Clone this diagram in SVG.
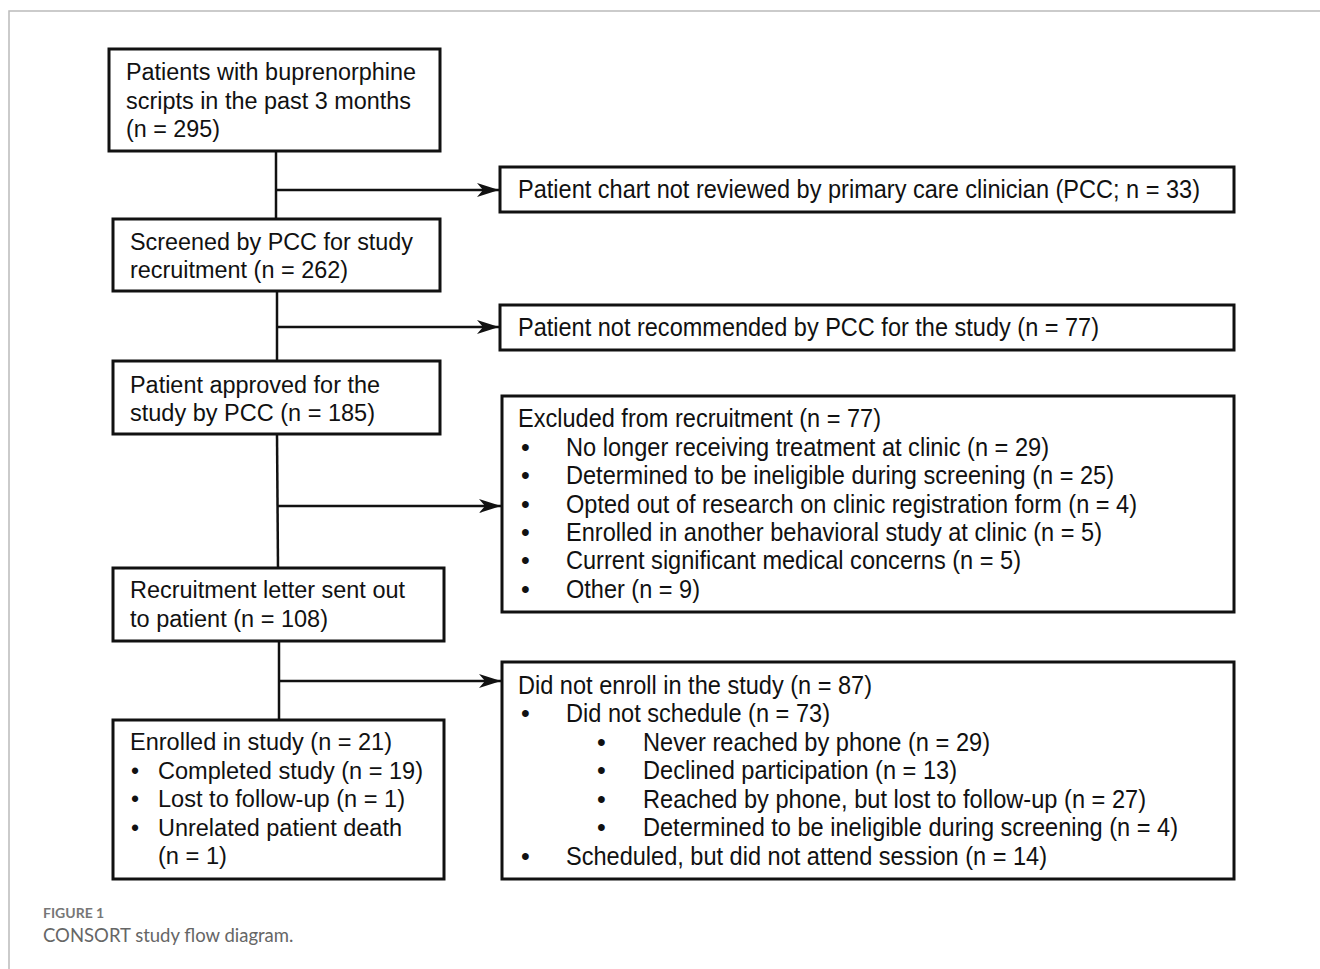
<svg xmlns="http://www.w3.org/2000/svg" width="1320" height="969" viewBox="0 0 1320 969">
<style>
.box{fill:#fff;stroke:#111;stroke-width:3}
.t{font-family:"Liberation Sans",Arial,sans-serif;font-size:23px;fill:#111}
.r{font-family:"Liberation Sans",Arial,sans-serif;font-size:25px;fill:#111}
.ln{stroke:#111;stroke-width:2.5;fill:none}
.cap1{font-family:Lato,"Liberation Sans",sans-serif;font-size:14px;font-weight:bold;fill:#777}
.cap2{font-family:Lato,"Liberation Sans",sans-serif;font-size:18.5px;fill:#666}
</style>
<defs>
<marker id="ah" markerUnits="userSpaceOnUse" markerWidth="24" markerHeight="16" refX="22" refY="8" orient="auto">
<path d="M0,1 L22,8 L0,15 L6,8 Z" fill="#111"/>
</marker>
</defs>
<rect width="1320" height="969" fill="#fff"/>
<path d="M9,969 V11 H1320" fill="none" stroke="#bbb" stroke-width="1.5"/>

<g id="connectors">
<line class="ln" x1="276" y1="151" x2="276" y2="219"/>
<line class="ln" x1="276" y1="190" x2="499" y2="190" marker-end="url(#ah)"/>
<line class="ln" x1="277" y1="291" x2="277" y2="361"/>
<line class="ln" x1="277" y1="327" x2="499" y2="327" marker-end="url(#ah)"/>
<line class="ln" x1="277" y1="434" x2="278" y2="568"/>
<line class="ln" x1="277" y1="506" x2="501" y2="506" marker-end="url(#ah)"/>
<line class="ln" x1="279" y1="641" x2="279" y2="720"/>
<line class="ln" x1="279" y1="681" x2="501" y2="681" marker-end="url(#ah)"/>
</g>

<g id="n1">
<rect class="box" x="109" y="49" width="331" height="102"/>
<text class="t" x="126" y="80" textLength="290" lengthAdjust="spacingAndGlyphs">Patients with buprenorphine</text>
<text class="t" x="126" y="109" textLength="285" lengthAdjust="spacingAndGlyphs">scripts in the past 3 months</text>
<text class="t" x="126" y="137" textLength="94" lengthAdjust="spacingAndGlyphs">(n = 295)</text>
</g>
<g id="n2">
<rect class="box" x="113" y="219" width="327" height="72"/>
<text class="t" x="130" y="250" textLength="283" lengthAdjust="spacingAndGlyphs">Screened by PCC for study</text>
<text class="t" x="130" y="278" textLength="218" lengthAdjust="spacingAndGlyphs">recruitment (n = 262)</text>
</g>
<g id="n3">
<rect class="box" x="113" y="361" width="327" height="73"/>
<text class="t" x="130" y="393" textLength="250" lengthAdjust="spacingAndGlyphs">Patient approved for the</text>
<text class="t" x="130" y="421" textLength="245" lengthAdjust="spacingAndGlyphs">study by PCC (n = 185)</text>
</g>
<g id="n4">
<rect class="box" x="113" y="568" width="331" height="73"/>
<text class="t" x="130" y="598" textLength="275" lengthAdjust="spacingAndGlyphs">Recruitment letter sent out</text>
<text class="t" x="130" y="627" textLength="198" lengthAdjust="spacingAndGlyphs">to patient (n = 108)</text>
</g>
<g id="n5">
<rect class="box" x="113" y="720" width="331" height="159"/>
<text class="t" x="130" y="750" textLength="262" lengthAdjust="spacingAndGlyphs">Enrolled in study (n = 21)</text>
<text class="t" x="131" y="779">•</text>
<text class="t" x="158" y="779" textLength="265" lengthAdjust="spacingAndGlyphs">Completed study (n = 19)</text>
<text class="t" x="131" y="807">•</text>
<text class="t" x="158" y="807" textLength="247" lengthAdjust="spacingAndGlyphs">Lost to follow-up (n = 1)</text>
<text class="t" x="131" y="836">•</text>
<text class="t" x="158" y="836" textLength="244" lengthAdjust="spacingAndGlyphs">Unrelated patient death</text>
<text class="t" x="158" y="864" textLength="69" lengthAdjust="spacingAndGlyphs">(n = 1)</text>
</g>

<g id="e1">
<rect class="box" x="500" y="167" width="734" height="45"/>
<text class="r" x="518" y="198" textLength="682" lengthAdjust="spacingAndGlyphs">Patient chart not reviewed by primary care clinician (PCC; n = 33)</text>
</g>
<g id="e2">
<rect class="box" x="500" y="305" width="734" height="45"/>
<text class="r" x="518" y="336" textLength="581" lengthAdjust="spacingAndGlyphs">Patient not recommended by PCC for the study (n = 77)</text>
</g>
<g id="e3">
<rect class="box" x="502" y="396" width="732" height="216"/>
<text class="r" x="518" y="427" textLength="363" lengthAdjust="spacingAndGlyphs">Excluded from recruitment (n = 77)</text>
<text class="r" x="521" y="456">•</text>
<text class="r" x="566" y="456" textLength="483" lengthAdjust="spacingAndGlyphs">No longer receiving treatment at clinic (n = 29)</text>
<text class="r" x="521" y="484">•</text>
<text class="r" x="566" y="484" textLength="548" lengthAdjust="spacingAndGlyphs">Determined to be ineligible during screening (n = 25)</text>
<text class="r" x="521" y="513">•</text>
<text class="r" x="566" y="513" textLength="571" lengthAdjust="spacingAndGlyphs">Opted out of research on clinic registration form (n = 4)</text>
<text class="r" x="521" y="541">•</text>
<text class="r" x="566" y="541" textLength="536" lengthAdjust="spacingAndGlyphs">Enrolled in another behavioral study at clinic (n = 5)</text>
<text class="r" x="521" y="569">•</text>
<text class="r" x="566" y="569" textLength="455" lengthAdjust="spacingAndGlyphs">Current significant medical concerns (n = 5)</text>
<text class="r" x="521" y="598">•</text>
<text class="r" x="566" y="598" textLength="134" lengthAdjust="spacingAndGlyphs">Other (n = 9)</text>
</g>
<g id="e4">
<rect class="box" x="502" y="662" width="732" height="217"/>
<text class="r" x="518" y="694" textLength="354" lengthAdjust="spacingAndGlyphs">Did not enroll in the study (n = 87)</text>
<text class="r" x="521" y="722">•</text>
<text class="r" x="566" y="722" textLength="264" lengthAdjust="spacingAndGlyphs">Did not schedule (n = 73)</text>
<text class="r" x="597" y="751">•</text>
<text class="r" x="643" y="751" textLength="347" lengthAdjust="spacingAndGlyphs">Never reached by phone (n = 29)</text>
<text class="r" x="597" y="779">•</text>
<text class="r" x="643" y="779" textLength="314" lengthAdjust="spacingAndGlyphs">Declined participation (n = 13)</text>
<text class="r" x="597" y="808">•</text>
<text class="r" x="643" y="808" textLength="503" lengthAdjust="spacingAndGlyphs">Reached by phone, but lost to follow-up (n = 27)</text>
<text class="r" x="597" y="836">•</text>
<text class="r" x="643" y="836" textLength="535" lengthAdjust="spacingAndGlyphs">Determined to be ineligible during screening (n = 4)</text>
<text class="r" x="521" y="865">•</text>
<text class="r" x="566" y="865" textLength="481" lengthAdjust="spacingAndGlyphs">Scheduled, but did not attend session (n = 14)</text>
</g>

<g id="caption">
<text class="cap1" x="43" y="918">FIGURE 1</text>
<text class="cap2" x="43" y="942">CONSORT study flow diagram.</text>
</g>
</svg>
